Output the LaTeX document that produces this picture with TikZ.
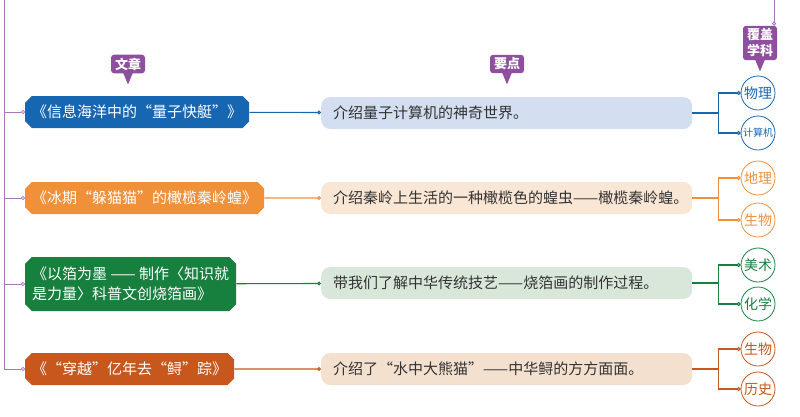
\documentclass[tikz,border=0pt]{standalone}
\usepackage{fontspec}
\setmainfont{Noto Sans CJK SC}
\usetikzlibrary{shapes.misc, arrows.meta}
\definecolor{tagc}{HTML}{8E4F9E}
\definecolor{trunkc}{HTML}{A874BC}
\definecolor{bluec}{HTML}{1766B1}
\definecolor{bluel}{HTML}{D3DEF0}
\definecolor{orangec}{HTML}{F0913A}
\definecolor{orangel}{HTML}{F9E6D4}
\definecolor{greenc}{HTML}{17803F}
\definecolor{greenl}{HTML}{D9E7DB}
\definecolor{rustc}{HTML}{C7571C}
\definecolor{rustl}{HTML}{F3E0CF}

\begin{document}
\begin{tikzpicture}[x=1pt, y=-1pt,
  art/.style={chamfered rectangle, chamfered rectangle xsep=3pt, fill=#1, text=white, anchor=west,
    inner xsep=4pt, minimum height=32pt, align=left, font=\fontsize{15}{20}\selectfont},
  pt/.style={rounded corners=9pt, fill=#1, anchor=west, text width=347pt, inner xsep=12pt,
    minimum height=32pt, align=left, text=black!80, font=\fontsize{15}{18}\selectfont},
  sub/.style={circle, draw=#1, fill=white, text=#1, line width=0.8pt, minimum size=34pt,
    inner sep=0pt, font=\fontsize{14}{14}\selectfont},
  tag/.style={fill=tagc, rounded corners=3pt, text=white, inner xsep=4pt, inner ysep=3pt, align=center,
    font=\bfseries\fontsize{13}{16}\selectfont},
  link/.style={draw=#1, line width=1.1pt, -{Circle[open, fill=white, length=4pt]}}]
  \useasboundingbox (0,0) rectangle (800,416);

  \node[art=bluec] (art1) at (25,112) {《信息海洋中的“量子快艇”》};
  \node[art=orangec] (art2) at (25,198) {《冰期“躲猫猫”的橄榄秦岭蝗》};
  \node[art=greenc, minimum height=54pt] (art3) at (25,284) {《以箔为墨 —— 制作〈知识就\\是力量〉科普文创烧箔画》};
  \node[art=rustc] (art4) at (25,369) {《“穿越”亿年去“鲟”踪》};

  \node[pt=bluel] (pt1) at (321,113) {介绍量子计算机的神奇世界。};
  \node[pt=orangel] (pt2) at (321,198) {\mbox{介绍秦岭上生活的一种橄榄色的蝗虫——橄榄秦岭蝗。}};
  \node[pt=greenl] (pt3) at (321,283) {带我们了解中华传统技艺——烧箔画的制作过程。};
  \node[pt=rustl] (pt4) at (321,369) {\mbox{介绍了“水中大熊猫”——中华鲟的方方面面。}};

  \node[sub=bluec] (sub1a) at (758,93) {物理};
  \node[sub=bluec, font=\fontsize{10}{10}\selectfont] (sub1b) at (758,133) {计算机};
  \node[sub=orangec] (sub2a) at (758,178) {地理};
  \node[sub=orangec] (sub2b) at (758,220) {生物};
  \node[sub=greenc] (sub3a) at (758,265) {美术};
  \node[sub=greenc] (sub3b) at (758,304) {化学};
  \node[sub=rustc] (sub4a) at (758,349) {生物};
  \node[sub=rustc] (sub4b) at (758,389) {历史};

  \node[tag] (tagart) at (128,64) {文章};
  \node[tag] (tagpt) at (507,64) {要点};
  \node[tag] (tagsub) at (760,43) {覆盖\\学科};
  \foreach \t in {tagart, tagpt, tagsub}
    \fill[tagc] ([xshift=-5pt, yshift=1pt]\t.south) -- ([xshift=5pt, yshift=1pt]\t.south) -- ([yshift=-11pt]\t.south) -- cycle;

  \coordinate (trunk) at (4,0);
  \coordinate (covtop) at (774,0);
  \draw[link=trunkc, line width=0.8pt] (covtop) -- (covtop |- tagsub.north);
  \foreach \i in {1,2,3,4}
    \draw[link=trunkc, line width=0.8pt] (trunk) |- (art\i.west);

  \draw[link=bluec] (art1) -- (pt1);
  \draw[link=orangec] (art2) -- (pt2);
  \draw[link=greenc] (art3) -- (pt3);
  \draw[link=rustc] (art4) -- (pt4);

  \foreach \i/\c in {1/bluec, 2/orangec, 3/greenc, 4/rustc} {
    \draw[link=\c] (pt\i.east) -- +(26,0) |- (sub\i a.west);
    \draw[link=\c] (pt\i.east) -- +(26,0) |- (sub\i b.west);
  }
\end{tikzpicture}
\end{document}
